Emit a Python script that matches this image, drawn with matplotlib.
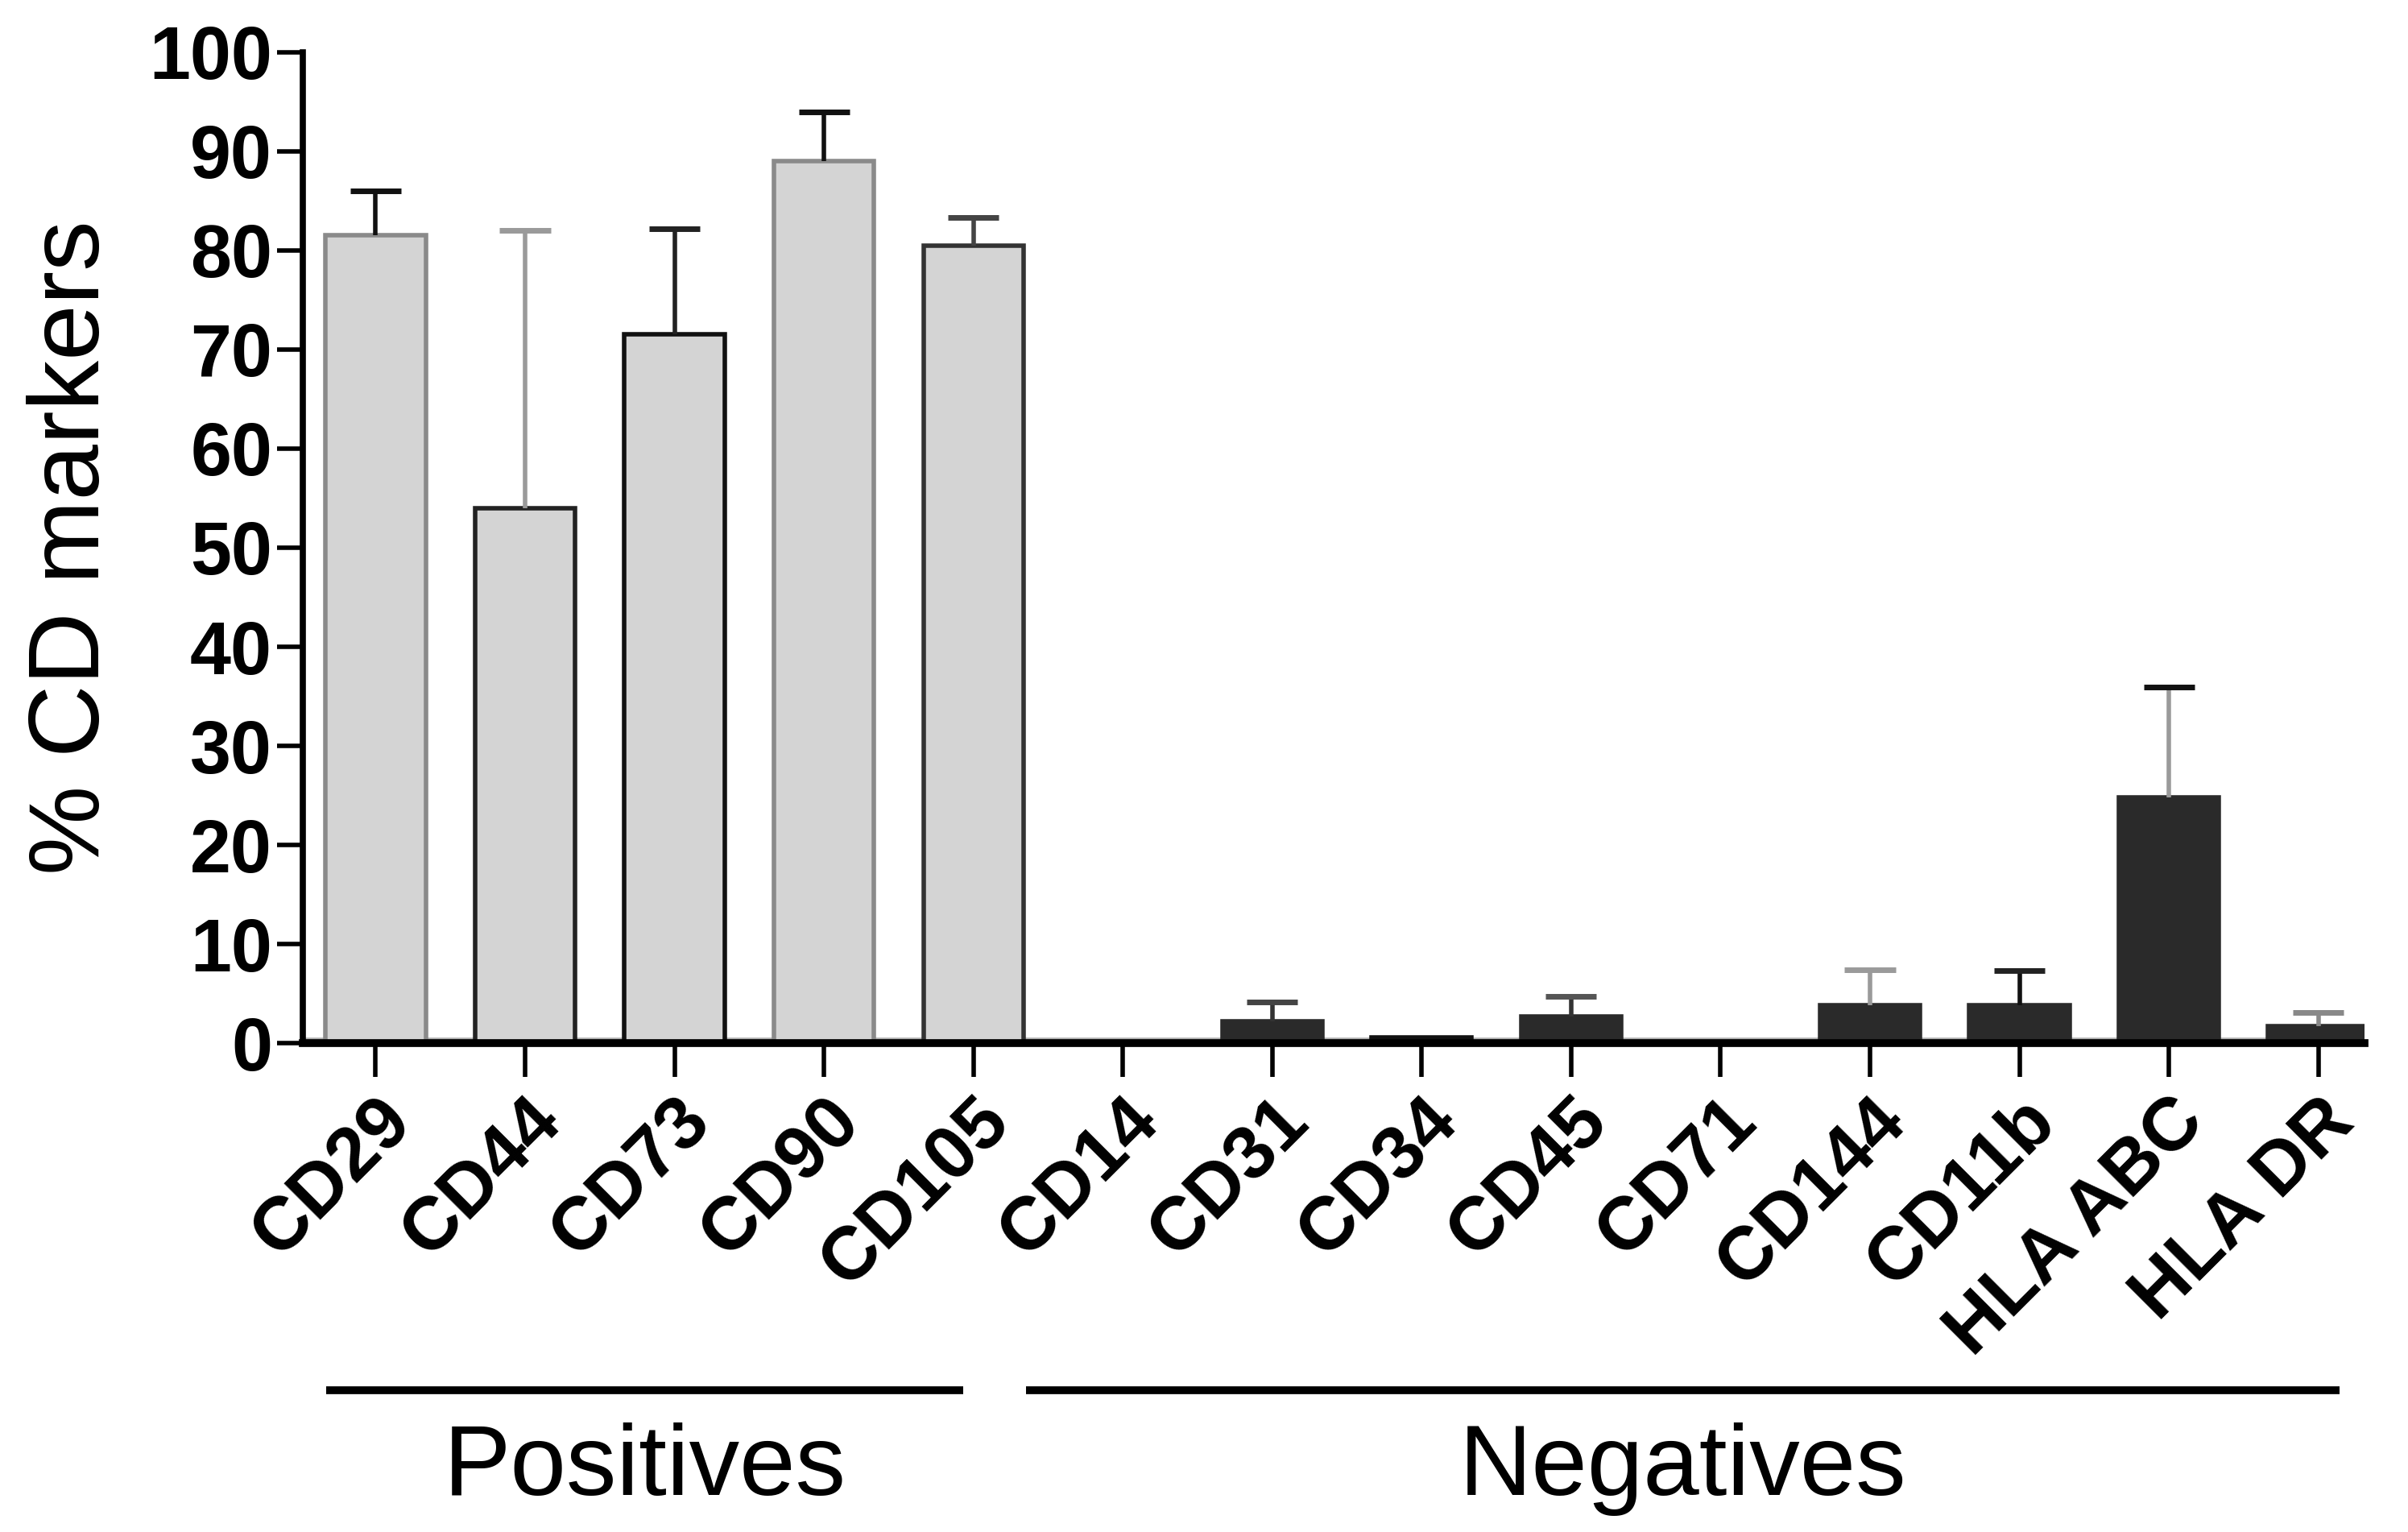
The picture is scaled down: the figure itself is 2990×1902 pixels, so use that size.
import numpy as np
import matplotlib
matplotlib.use("Agg")
import matplotlib.pyplot as plt
from matplotlib.transforms import blended_transform_factory

plt.rcParams['font.family'] = ['Liberation Sans', 'DejaVu Sans']

markers = ['CD29', 'CD44', 'CD73', 'CD90', 'CD105', 'CD14', 'CD31', 'CD34',
           'CD45', 'CD71', 'CD144', 'CD11b', 'HLA ABC', 'HLA DR']
means = [81.5, 54.0, 71.5, 89.0, 80.5, 0.0, 2.2, 0.6, 2.7, 0.0, 3.8, 3.8, 24.8, 1.7]
errs = [4.5, 28.0, 10.7, 5.0, 2.8, 0.0, 2.0, 0.0, 2.0, 0.0, 3.6, 3.5, 11.1, 1.4]
groups = ['Positives'] * 5 + ['Negatives'] * 9

# styles
fill = {'Positives': '#d4d4d4', 'Negatives': '#2a2a2a'}
edges = ['#8a8a8a', '#222222', '#111111', '#8a8a8a', '#333333',
         '#2a2a2a', '#2a2a2a', '#111111', '#2a2a2a', '#2a2a2a',
         '#2a2a2a', '#2a2a2a', '#2a2a2a', '#2a2a2a']
err_cols = ['#111111', '#9a9a9a', '#222222', '#111111', '#444444',
            '#111111', '#333333', '#111111', '#333333', '#111111',
            '#9a9a9a', '#111111', '#9a9a9a', '#888888']
cap_cols = ['#111111', '#9a9a9a', '#222222', '#111111', '#444444',
            '#111111', '#444444', '#111111', '#555555', '#111111',
            '#9a9a9a', '#222222', '#111111', '#888888']

fig = plt.figure(figsize=(29.9, 19.02), dpi=100)
ax = fig.add_axes([0.1256, 0.319, 0.8564, 0.647])

x = np.arange(len(markers))
cap_half = 0.17
for i in range(len(markers)):
    ax.bar(x[i], means[i], width=0.67, color=fill[groups[i]],
           edgecolor=edges[i], linewidth=4, zorder=2)
    if errs[i] > 0:
        top = means[i] + errs[i]
        ax.vlines(x[i], means[i], top, colors=err_cols[i], linewidth=4, zorder=3)
        ax.hlines(top, x[i] - cap_half, x[i] + cap_half, colors=cap_cols[i],
                  linewidth=5, zorder=3)

ax.axhline(0.35, color='#b0b0b0', linewidth=4, zorder=1)

ax.set_xlim(-0.49, 13.31)
ax.set_ylim(0, 100)
ax.set_yticks(np.arange(0, 101, 10))
ax.set_xticks(x)
ax.set_xticklabels(markers, rotation=45, ha='right', rotation_mode='anchor',
                   fontsize=67, fontweight='bold')
for lab in ax.get_yticklabels():
    lab.set_fontsize(66)
    lab.set_fontweight('bold')

ax.spines['top'].set_visible(False)
ax.spines['right'].set_visible(False)
ax.spines['left'].set_linewidth(5.5)
ax.spines['bottom'].set_linewidth(7)
ax.spines['bottom'].set_zorder(4)
ax.tick_params(axis='y', length=23, width=4, pad=4)
ax.tick_params(axis='x', length=30, width=4, pad=8)

ax.set_ylabel('% CD markers', fontsize=90, labelpad=26)

trans = blended_transform_factory(ax.transData, ax.transAxes)
spans = {'Positives': (-0.33, 3.93), 'Negatives': (4.35, 13.14)}
for name, (x0, x1) in spans.items():
    ax.plot([x0, x1], [-0.35, -0.35], color='black', linewidth=7,
            transform=trans, clip_on=False, solid_capstyle='butt')
    ax.text((x0 + x1) / 2, -0.43, name, transform=trans, ha='center',
            va='center', fontsize=90)

fig.savefig('out.png', dpi=100)
